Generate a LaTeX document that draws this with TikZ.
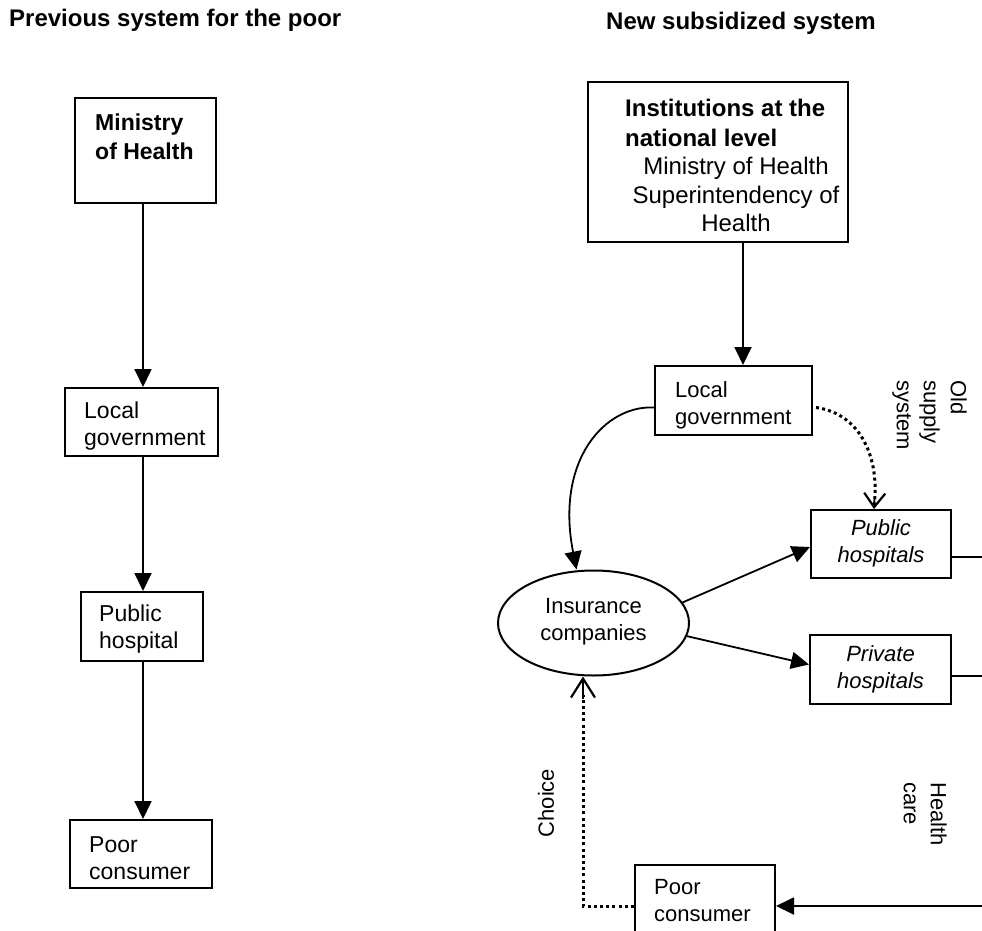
\documentclass[tikz,border=0pt]{standalone}
\usepackage{fontspec}
\setmainfont{Liberation Sans}
\usetikzlibrary{arrows.meta,shapes.geometric}
\begin{document}
\begin{tikzpicture}[x=1pt,y=-1pt,
  box/.style={draw,line width=2pt,inner sep=0pt},
  txt/.style={inner sep=0pt,font=\fontsize{22}{27}\selectfont,align=left},
  ltxt/.style={inner sep=0pt,font=\fontsize{23}{27}\selectfont,align=left},
  ttl/.style={inner sep=0pt,font=\fontsize{24}{28}\selectfont\bfseries},
  arr/.style={line width=1.8pt,-{Triangle[length=18pt,width=17pt]}},
  plain/.style={line width=1.8pt},
  dots/.style={line width=3pt,dash pattern=on 3pt off 3.2pt},
  vtip/.style={-{Straight Barb[length=19pt,width=24pt,line width=2.2pt]}},
  vtipb/.style={-{Straight Barb[length=14pt,width=21pt,line width=2.2pt]}}]
\useasboundingbox (0,0) rectangle (982,931);
% titles
\node[ttl,anchor=south west] (t1) at (9,32) {Previous system for the poor};
\node[ttl,anchor=south west] (t2) at (606,35) {New subsidized system};
% left column
\node[box,minimum width=141,minimum height=105] (moh) at (145.5,150.5) {};
\node[ltxt,anchor=north west,font=\fontsize{23}{29}\selectfont\bfseries] (mohT) at (95,114) {Ministry\\of Health};
\node[box,minimum width=153,minimum height=68] (lg1) at (141.5,422) {};
\node[ltxt,anchor=north west] (lg1T) at (84,402) {Local\\government};
\node[box,minimum width=122,minimum height=69] (ph1) at (142,626.5) {};
\node[ltxt,anchor=north west] (ph1T) at (99,605) {Public\\hospital};
\node[box,minimum width=142,minimum height=68] (pc1) at (141,854) {};
\node[ltxt,anchor=north west] (pc1T) at (89,836) {Poor\\consumer};
\draw[arr] ([xshift=-2.5pt]moh.south) -- ([xshift=-2.5pt]moh.south |- lg1.north);
\draw[arr] ([xshift=1.5pt]lg1.south) -- ([xshift=1.5pt]lg1.south |- ph1.north);
\draw[arr] ([xshift=1pt]ph1.south) -- ([xshift=1pt]ph1.south |- pc1.north);
% right column
\node[box,minimum width=260,minimum height=160] (inst) at (718,162) {};
\node[txt,anchor=north west,font=\fontsize{24}{29.5}\selectfont\bfseries] (instB) at (625,99) {Institutions at the\\national level};
\node[txt,anchor=north,align=center,font=\fontsize{24}{28.5}\selectfont] (instR) at (736,157) {Ministry of Health\\Superintendency of\\Health};
\node[box,minimum width=157,minimum height=69] (lg2) at (733.5,400.5) {};
\node[txt,anchor=north west] (lg2T) at (675,381) {Local\\government};
\node[box,minimum width=140,minimum height=68] (ph2) at (881,544) {};
\node[txt,align=center,font=\fontsize{22}{27}\selectfont\itshape] (ph2T) at (881,543) {Public\\hospitals};
\node[box,minimum width=141,minimum height=69] (pv2) at (880.5,669.5) {};
\node[txt,align=center,font=\fontsize{22}{27}\selectfont\itshape] (pv2T) at (880.5,669) {Private\\hospitals};
\node[draw,line width=2pt,ellipse,minimum width=191,minimum height=105,inner sep=0pt] (ins) at (593.5,623) {};
\node[txt,align=center] (insT) at (593.5,622) {Insurance\\companies};
\node[box,minimum width=140,minimum height=90] (pc2) at (705,910) {};
\node[txt,anchor=north west] (pc2T) at (654,879) {Poor\\consumer};
\coordinate (edge1) at (982,557);
\coordinate (edge2) at (982,676);
\coordinate (edge3) at (982,906);
% connectors right
\draw[arr] ([xshift=25pt]inst.south) -- ([xshift=25pt]inst.south |- lg2.north);
\draw[arr] ([yshift=-7pt]lg2.west) .. controls (605,405) and (555,460) .. ([xshift=-17pt]ins.north);
\draw[dots] ([xshift=3pt,yshift=-7pt]lg2.east) .. controls (862,414) and (880,460) .. (874,506);
\draw[vtipb,line width=1.8pt] (874.5,498) -- ([xshift=-7pt]ph2.north);
\draw[arr] (ins.13) -- ([yshift=-3pt]ph2.west);
\draw[arr] (ins.-8) -- ([yshift=5pt]pv2.west);
\draw[plain] ([yshift=-13pt]ph2.east) -- (edge1);
\draw[plain] ([yshift=-6.5pt]pv2.east) -- (edge2);
\draw[arr] (edge3) -- ([yshift=4pt]pc2.east);
\draw[dots] ([yshift=4pt]pc2.west) -| ([xshift=-10.5pt,yshift=-18pt]ins.south);
\draw[vtip,line width=1.8pt] ([xshift=-10.5pt,yshift=-22pt]ins.south) -- ([xshift=-10.5pt]ins.south);
% rotated labels
\node[txt,rotate=-90,anchor=north west] (old) at (967,380) {Old\\supply\\system};
\node[txt,rotate=-90,anchor=north west] (hc) at (947,782) {Health\\care};
\node[txt,rotate=90] (ch) at (546,803) {Choice};
\end{tikzpicture}
\end{document}
